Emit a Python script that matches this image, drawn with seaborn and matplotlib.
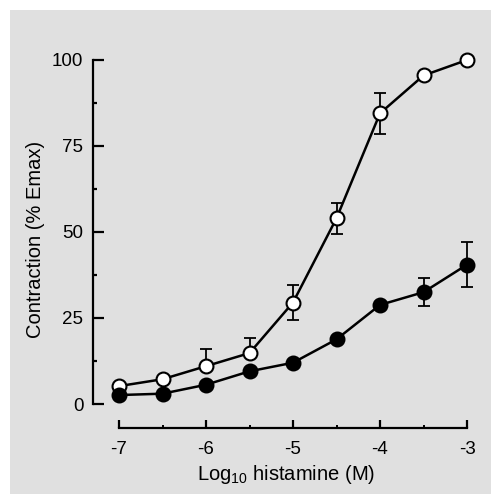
import numpy as np
import pandas as pd
import matplotlib
matplotlib.use("Agg")
import matplotlib.pyplot as plt
import seaborn as sns
from matplotlib.patches import Rectangle
from matplotlib.ticker import MultipleLocator

# log10 histamine concentrations
log_conc = [-7, -6.5, -6, -5.5, -5, -4.5, -4, -3.5, -3]

# open circles
open_mean = [5.2, 7.2, 11.0, 14.8, 29.5, 54.0, 84.5, 95.5, 100.0]
open_err_lo = [0, 0, 0, 0, 5.0, 4.5, 6.0, 0, 0]
open_err_hi = [0, 0, 5.0, 4.5, 5.0, 4.5, 6.0, 0, 0]

# filled circles
filled_mean = [2.6, 3.0, 5.6, 9.5, 12.0, 18.8, 28.8, 32.5, 40.5]
filled_err_lo = [0, 0, 0, 0, 0, 0, 0, 4.0, 6.5]
filled_err_hi = [0, 0, 0, 0, 0, 0, 0, 4.0, 6.5]

sns.set_style("white")
plt.rcParams['font.family'] = ['Liberation Sans', 'DejaVu Sans']
plt.rcParams['mathtext.fontset'] = 'custom'
plt.rcParams['mathtext.rm'] = 'Liberation Sans'

W, H = 491, 494
fig = plt.figure(figsize=(W / 100, H / 100), dpi=100)
fig.patch.set_facecolor('white')
fig.patches.append(Rectangle((10 / W, 0), 1 - 10 / W, 1 - 10 / H,
                             transform=fig.transFigure, facecolor='#e0e0e0',
                             edgecolor='none', zorder=-10))

ax = fig.add_axes([93 / W, (H - 428) / H, (480 - 93) / W, (428 - 50) / H])
ax.set_facecolor('none')

df = pd.DataFrame({
    'conc': log_conc * 2,
    'val': open_mean + filled_mean,
    'grp': ['open'] * len(log_conc) + ['filled'] * len(log_conc),
})

# error bars first, so markers sit on top
ax.errorbar(log_conc, open_mean, yerr=[open_err_lo, open_err_hi], fmt='none',
            ecolor='black', elinewidth=1.3, capsize=4.5, capthick=1.3, zorder=2)
ax.errorbar(log_conc, filled_mean, yerr=[filled_err_lo, filled_err_hi], fmt='none',
            ecolor='black', elinewidth=1.3, capsize=4.5, capthick=1.3, zorder=2)

sns.lineplot(data=df[df.grp == 'open'], x='conc', y='val', ax=ax, color='black',
             linewidth=1.8, marker='o', markersize=10, markerfacecolor='white',
             markeredgecolor='black', markeredgewidth=1.5, zorder=3)
sns.lineplot(data=df[df.grp == 'filled'], x='conc', y='val', ax=ax, color='black',
             linewidth=1.8, marker='o', markersize=10, markerfacecolor='black',
             markeredgecolor='black', markeredgewidth=1.5, zorder=4)

ax.set_xlim(-7 - 26 / 87, -7 - 26 / 87 + 387 / 87)
ax.set_ylim(-24 / 3.44, -24 / 3.44 + 378 / 3.44)

for s in ['top', 'right']:
    ax.spines[s].set_visible(False)
ax.spines['left'].set_bounds(0, 100)
ax.spines['bottom'].set_bounds(-7, -3)
for s in ['left', 'bottom']:
    ax.spines[s].set_linewidth(1.6)
    ax.spines[s].set_color('black')

ax.set_xticks([-7, -6, -5, -4, -3])
ax.set_xticklabels(['-7', '-6', '-5', '-4', '-3'])
ax.xaxis.set_minor_locator(MultipleLocator(0.5))
ax.set_yticks([0, 25, 50, 75, 100])
ax.yaxis.set_minor_locator(MultipleLocator(12.5))

ax.tick_params(axis='both', which='both', direction='in', color='black',
               left=True, bottom=True)
ax.tick_params(axis='both', which='major', width=1.6, labelsize=13.5, labelcolor='black')
ax.tick_params(axis='y', which='major', length=8, pad=7)
ax.tick_params(axis='x', which='major', length=6, pad=9)
ax.tick_params(axis='y', which='minor', length=3, width=1.6)
ax.tick_params(axis='x', which='minor', length=2.5, width=1.4)

ax.set_xlabel('Log$_{10}$ histamine (M)', fontsize=14.5, labelpad=4, color='black')
ax.set_ylabel('Contraction (% Emax)', fontsize=14.5, labelpad=5, color='black')

fig.savefig('out.png', dpi=100)
